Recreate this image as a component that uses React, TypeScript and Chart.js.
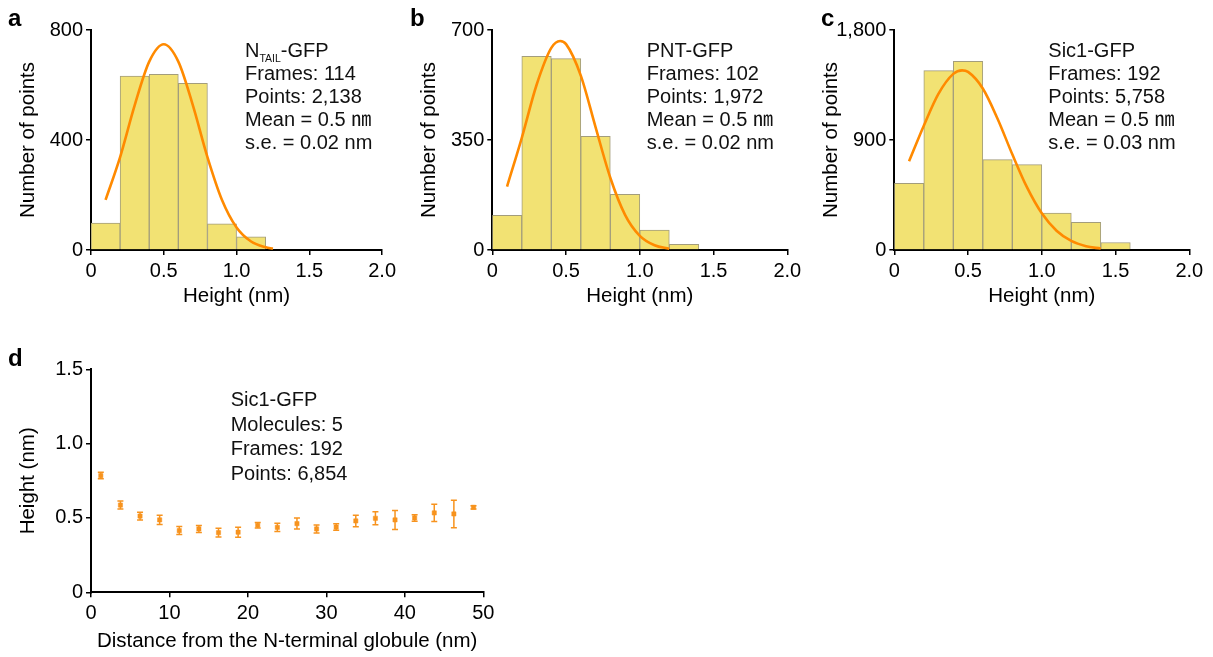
import React, { useEffect, useRef } from 'react';
import { Chart, registerables } from 'chart.js';

Chart.register(...registerables);

// ---------- data ----------
const binCenters = [0.1, 0.3, 0.5, 0.7, 0.9, 1.1, 1.3, 1.5];
const countsA = [98, 632, 639, 606, 95, 48];
const countsB = [110, 616, 609, 362, 177, 63, 18];
const countsC = [546, 1468, 1544, 740, 699, 303, 227, 61];

const fitXA = [0.1, 0.2, 0.3, 0.4, 0.5, 0.6, 0.7, 0.8, 0.9, 1.0, 1.1, 1.2, 1.25];
const fitYA = [182, 338, 526, 685, 748, 685, 526, 338, 182, 82, 31, 10, 5];
const fitXB = [0.1, 0.2, 0.3, 0.4, 0.46, 0.5, 0.6, 0.7, 0.8, 0.9, 1.0, 1.1, 1.2];
const fitYB = [202, 357, 525, 643, 665, 655, 555, 391, 230, 112, 45, 15, 4];
const fitXC = [0.1, 0.2, 0.3, 0.4, 0.46, 0.5, 0.6, 0.7, 0.8, 0.9, 1.0, 1.1, 1.2, 1.3, 1.4];
const fitYC = [726, 1017, 1279, 1441, 1470, 1457, 1321, 1074, 783, 512, 300, 158, 74, 31, 12];

const heightTicks = [0, 0.5, 1.0, 1.5, 2.0];
const yTicksA = [0, 400, 800];
const yTicksB = [0, 350, 700];
const yTicksC = [0, 900, 1800];

const distNm = [1.25, 3.75, 6.25, 8.75, 11.25, 13.75, 16.25, 18.75, 21.25, 23.75, 26.25, 28.75, 31.25, 33.75, 36.25, 38.75, 41.25, 43.75, 46.25, 48.75];
const heightNm = [0.785, 0.587, 0.513, 0.487, 0.415, 0.426, 0.401, 0.404, 0.451, 0.437, 0.462, 0.426, 0.439, 0.48, 0.498, 0.487, 0.5, 0.534, 0.527, 0.572];
const heightErr = [0.022, 0.027, 0.026, 0.031, 0.027, 0.024, 0.029, 0.034, 0.018, 0.028, 0.037, 0.027, 0.022, 0.039, 0.043, 0.064, 0.022, 0.058, 0.093, 0.011];
const distTicks = [0, 10, 20, 30, 40, 50];
const heightDTicks = [0, 0.5, 1.0, 1.5];

type Run = { text: string; sub?: boolean };
const notesA: Run[][] = [
  [{ text: 'N' }, { text: 'TAIL', sub: true }, { text: '-GFP' }],
  [{ text: 'Frames: 114' }],
  [{ text: 'Points: 2,138' }],
  [{ text: 'Mean = 0.5 ㎚' }],
  [{ text: 's.e. = 0.02 nm' }],
];
const notesB: Run[][] = [
  [{ text: 'PNT-GFP' }],
  [{ text: 'Frames: 102' }],
  [{ text: 'Points: 1,972' }],
  [{ text: 'Mean = 0.5 ㎚' }],
  [{ text: 's.e. = 0.02 nm' }],
];
const notesC: Run[][] = [
  [{ text: 'Sic1-GFP' }],
  [{ text: 'Frames: 192' }],
  [{ text: 'Points: 5,758' }],
  [{ text: 'Mean = 0.5 ㎚' }],
  [{ text: 's.e. = 0.03 nm' }],
];
const notesD: Run[][] = [
  [{ text: 'Sic1-GFP' }],
  [{ text: 'Molecules: 5' }],
  [{ text: 'Frames: 192' }],
  [{ text: 'Points: 6,854' }],
];

// ---------- styles ----------
const YELLOW = '#F2E273';
const EDGE = '#A39D7C';
const ORANGE = '#FF8A00';
const ORANGE_D = '#F7931E';
const AXIS_FONT = '"Liberation Sans", Arial, sans-serif';
const NOTE_FONT = '"Liberation Sans", Arial, "Noto Sans CJK JP", sans-serif';

function notesPlugin(letter: string, lx: number, ly: number, x: number, y0: number, dy: number, lines: Run[][]) {
  return {
    id: 'notes',
    afterDraw(chart: any) {
      const ctx = chart.ctx as CanvasRenderingContext2D;
      ctx.save();
      ctx.fillStyle = '#000';
      ctx.textBaseline = 'alphabetic';
      ctx.textAlign = 'left';
      ctx.font = 'bold 24px "Liberation Sans", Arial, sans-serif';
      ctx.fillText(letter, lx, ly);
      ctx.fillStyle = '#111';
      lines.forEach((runs, i) => {
        let cx = x;
        runs.forEach((r) => {
          ctx.font = `${r.sub ? 10.5 : 20}px ${NOTE_FONT}`;
          ctx.fillText(r.text, cx, y0 + i * dy + (r.sub ? 4.5 : 0));
          cx += ctx.measureText(r.text).width;
        });
      });
      ctx.restore();
    },
  };
}

const errorBarPlugin = {
  id: 'errbars',
  beforeDatasetsDraw(chart: any) {
    const ctx = chart.ctx as CanvasRenderingContext2D;
    const xs = chart.scales.x;
    const ys = chart.scales.y;
    ctx.save();
    ctx.strokeStyle = ORANGE_D;
    ctx.lineWidth = 1.5;
    distNm.forEach((d, i) => {
      const px = xs.getPixelForValue(d);
      const top = ys.getPixelForValue(heightNm[i] + heightErr[i]);
      const bot = ys.getPixelForValue(heightNm[i] - heightErr[i]);
      ctx.beginPath();
      ctx.moveTo(px, top);
      ctx.lineTo(px, bot);
      ctx.moveTo(px - 3, top);
      ctx.lineTo(px + 3, top);
      ctx.moveTo(px - 3, bot);
      ctx.lineTo(px + 3, bot);
      ctx.stroke();
    });
    ctx.restore();
  },
};

const fmtDec = (v: any) => (Number(v) === 0 ? '0' : Number(v).toFixed(1));
const fmtThousands = (v: any) => Number(v).toLocaleString('en-US');

function axis(opts: {
  min: number; max: number; ticks: number[]; fmt: (v: any) => string; pad: number;
  title: string; titlePad: any; fit: (s: any) => void;
}) {
  return {
    type: 'linear',
    min: opts.min,
    max: opts.max,
    offset: false,
    afterBuildTicks: (s: any) => { s.ticks = opts.ticks.map((v) => ({ value: v })); },
    afterFit: opts.fit,
    ticks: {
      callback: opts.fmt,
      color: '#000',
      padding: opts.pad,
      maxRotation: 0,
      autoSkip: false,
      font: { family: AXIS_FONT, size: 20 },
    },
    grid: {
      display: true, offset: false, drawOnChartArea: false, drawTicks: true,
      tickLength: 5, tickWidth: 1.5, tickColor: '#000', color: '#000', lineWidth: 1.5,
    },
    border: { display: true, color: '#000', width: 2 },
    title: {
      display: true, text: opts.title, color: '#000', padding: opts.titlePad,
      font: { family: AXIS_FONT, size: 20.5 },
    },
  };
}

function histConfig(p: {
  counts: number[]; fitX: number[]; fitY: number[]; yTicks: number[]; yFmt: (v: any) => string;
  yW: number; padR: number; yTitlePad: number; letter: string; lx: number; noteX: number; notes: Run[][];
}) {
  return {
    type: 'bar',
    data: {
      datasets: [
        {
          type: 'line',
          data: p.fitX.map((x, i) => ({ x, y: p.fitY[i] })),
          borderColor: ORANGE,
          borderWidth: 2.6,
          pointRadius: 0,
          cubicInterpolationMode: 'monotone',
          order: 0,
        },
        {
          type: 'bar',
          data: p.counts.map((y, i) => ({ x: binCenters[i], y })),
          backgroundColor: YELLOW,
          borderColor: EDGE,
          borderWidth: 1,
          barPercentage: 1,
          categoryPercentage: 1,
          order: 1,
        },
      ],
    },
    options: {
      responsive: false,
      animation: false,
      devicePixelRatio: 1,
      layout: { padding: { left: 0, right: p.padR, top: 30, bottom: 0 } },
      plugins: { legend: { display: false }, tooltip: { enabled: false } },
      scales: {
        x: axis({
          min: 0, max: 2, ticks: heightTicks, fmt: fmtDec, pad: 4, title: 'Height (nm)',
          titlePad: { top: 0, bottom: 1 }, fit: (s: any) => { s.height = 60; },
        }),
        y: axis({
          min: 0, max: p.yTicks[p.yTicks.length - 1], ticks: p.yTicks, fmt: p.yFmt, pad: 3, title: 'Number of points',
          titlePad: { top: p.yTitlePad, bottom: 0 }, fit: (s: any) => { s.width = p.yW; },
        }),
      },
    },
    plugins: [notesPlugin(p.letter, p.lx, 26, p.noteX, 57, 23, p.notes)],
  };
}

function dConfig() {
  return {
    type: 'scatter',
    data: {
      datasets: [
        {
          data: distNm.map((x, i) => ({ x, y: heightNm[i] })),
          backgroundColor: ORANGE_D,
          borderColor: ORANGE_D,
          borderWidth: 0.5,
          pointStyle: 'rect',
          pointRadius: 3,
        },
      ],
    },
    options: {
      responsive: false,
      animation: false,
      devicePixelRatio: 1,
      layout: { padding: { left: 0, right: 16.7, top: 29.3, bottom: 0 } },
      plugins: { legend: { display: false }, tooltip: { enabled: false } },
      scales: {
        x: axis({
          min: 0, max: 50, ticks: distTicks, fmt: (v: any) => String(v), pad: 4, title: 'Distance from the N-terminal globule (nm)',
          titlePad: { top: 0, bottom: 3 }, fit: (s: any) => { s.height = 64.7; },
        }),
        y: axis({
          min: 0, max: 1.5, ticks: heightDTicks, fmt: fmtDec, pad: 3, title: 'Height (nm)',
          titlePad: { top: 16.5, bottom: 0 }, fit: (s: any) => { s.width = 91; },
        }),
      },
    },
    plugins: [errorBarPlugin, notesPlugin('d', 8, 26, 230.7, 65.7, 24.8, notesD)],
  };
}

function ChartCanvas(props: { left: number; top: number; width: number; height: number; make: () => any }) {
  const ref = useRef<HTMLCanvasElement>(null);
  useEffect(() => {
    const chart = new Chart(ref.current as HTMLCanvasElement, props.make());
    return () => chart.destroy();
  }, []);
  return (
    <canvas
      ref={ref}
      width={props.width}
      height={props.height}
      style={{ position: 'absolute', left: props.left, top: props.top, width: props.width, height: props.height }}
    />
  );
}

export default function App() {
  return (
    <div style={{ position: 'absolute', left: 0, top: 0, width: 1213, height: 657, background: '#fff', overflow: 'hidden' }}>
      <ChartCanvas
        left={0} top={0} width={400} height={310}
        make={() => histConfig({ counts: countsA, fitX: fitXA, fitY: fitYA, yTicks: yTicksA, yFmt: fmtThousands, yW: 91, padR: 15, yTitlePad: 16, letter: 'a', lx: 8, noteX: 245, notes: notesA })}
      />
      <ChartCanvas
        left={400} top={0} width={410} height={310}
        make={() => histConfig({ counts: countsB, fitX: fitXB, fitY: fitYB, yTicks: yTicksB, yFmt: fmtThousands, yW: 92.3, padR: 22.7, yTitlePad: 17.5, letter: 'b', lx: 10, noteX: 246.7, notes: notesB })}
      />
      <ChartCanvas
        left={810} top={0} width={403} height={310}
        make={() => histConfig({ counts: countsC, fitX: fitXC, fitY: fitYC, yTicks: yTicksC, yFmt: fmtThousands, yW: 84.3, padR: 23.7, yTitlePad: 9.5, letter: 'c', lx: 11, noteX: 238.3, notes: notesC })}
      />
      <ChartCanvas left={0} top={340} width={500} height={317} make={dConfig} />
    </div>
  );
}
